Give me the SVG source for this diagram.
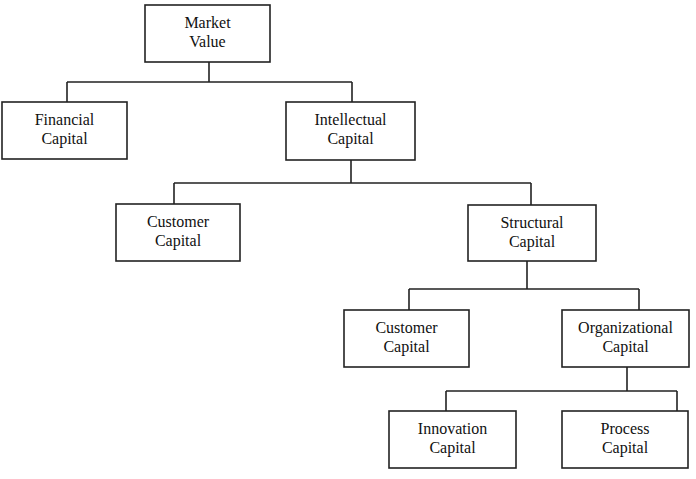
<svg xmlns="http://www.w3.org/2000/svg" width="696" height="479" viewBox="0 0 696 479">
<style>
rect{fill:#fff;stroke:#222;stroke-width:1.6}
text{font-family:"Liberation Serif","Times New Roman",serif;font-size:16px;fill:#111;text-anchor:middle}
#connectors path{fill:none;stroke:#222;stroke-width:1.6}
</style>
<rect x="0" y="0" width="696" height="479" style="fill:#fff;stroke:none"/>
<g id="connectors">
<path d="M209,62V82M67,82H352M67,82V102M352,82V102"/>
<path d="M351,160V183M174,183H531M174,183V204M531,183V205"/>
<path d="M527,261V289M409,289H639M409,289V310M639,289V310"/>
<path d="M627,367V391M446,391H677M446,391V411M677,391V411"/>
</g>
<g id="market-value"><rect x="145" y="5" width="125" height="57"/><text x="207.5" y="28">Market</text><text x="207.5" y="47">Value</text></g>
<g id="financial-capital"><rect x="2" y="102" width="125" height="57"/><text x="64.5" y="125">Financial</text><text x="64.5" y="144">Capital</text></g>
<g id="intellectual-capital"><rect x="286" y="102" width="129" height="58"/><text x="350.5" y="125">Intellectual</text><text x="350.5" y="144">Capital</text></g>
<g id="customer-capital-1"><rect x="116" y="204" width="124" height="57"/><text x="178" y="227">Customer</text><text x="178" y="246">Capital</text></g>
<g id="structural-capital"><rect x="468" y="205" width="128" height="56"/><text x="532" y="228">Structural</text><text x="532" y="247">Capital</text></g>
<g id="customer-capital-2"><rect x="344" y="310" width="125" height="57"/><text x="406.5" y="333">Customer</text><text x="406.5" y="352">Capital</text></g>
<g id="organizational-capital"><rect x="562" y="310" width="127" height="57"/><text x="625.5" y="333">Organizational</text><text x="625.5" y="352">Capital</text></g>
<g id="innovation-capital"><rect x="389" y="411" width="127" height="57"/><text x="452.5" y="434">Innovation</text><text x="452.5" y="453">Capital</text></g>
<g id="process-capital"><rect x="562" y="411" width="126" height="57"/><text x="625" y="434">Process</text><text x="625" y="453">Capital</text></g>
</svg>
